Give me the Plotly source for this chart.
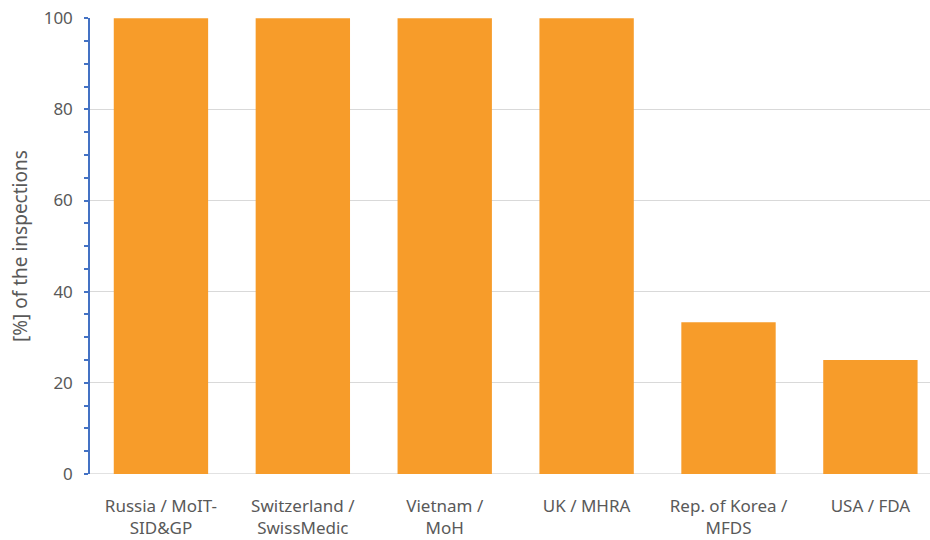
import plotly.graph_objects as go

categories = ["Russia / MoIT-<br>SID&GP", "Switzerland /<br>SwissMedic", "Vietnam /<br>MoH",
              "UK / MHRA", "Rep. of Korea /<br>MFDS", "USA / FDA"]
values = [100, 100, 100, 100, 33.3, 25]
y_ticks = [0, 20, 40, 60, 80, 100]

fig = go.Figure(go.Bar(x=list(range(len(categories))), y=values, marker_color="#F79C2A",
                       marker_line_width=0, width=0.665))

fig.update_layout(
    width=930, height=540,
    margin=dict(l=90, r=0, t=18, b=66),
    plot_bgcolor="white", paper_bgcolor="white",
    font=dict(family="Noto Sans", size=17, color="#595959"),
    showlegend=False,
)
fig.update_xaxes(
    range=[-0.5, 5.42],
    tickvals=list(range(len(categories))), ticktext=categories,
    showgrid=False, zeroline=False, showline=False, ticks="",
    tickfont=dict(size=17, color="#595959"),
    ticklabelstandoff=20,
    automargin=False,
)
fig.update_yaxes(
    range=[0, 100.05], tickvals=y_ticks,
    showgrid=True, gridcolor="#D9D9D9", gridwidth=1,
    zeroline=False,
    showline=True, linecolor="#4472C4", linewidth=1.5,
    ticks="outside", ticklen=4, tickcolor="#4472C4", tickwidth=1.5,
    minor=dict(dtick=5, ticks="outside", ticklen=4, tickcolor="#4472C4", tickwidth=1.5, showgrid=False),
    tickfont=dict(size=17, color="#595959"),
    ticklabelstandoff=8,
    ticklabeloverflow="allow",
    automargin=False,
)
fig.add_shape(type="line", xref="paper", yref="y", x0=0, x1=1, y0=0, y1=0,
              line=dict(color="#D9D9D9", width=1.5), layer="below")
fig.add_annotation(text="[%] of the inspections", xref="paper", yref="paper",
                   x=-70 / 840, y=0.5, xanchor="center", yanchor="middle", textangle=-90,
                   showarrow=False, font=dict(size=19, color="#595959"))

fig.write_html("out.html", config={"displayModeBar": False},
               post_script="document.body.style.margin='0';document.body.style.overflow='hidden';")
